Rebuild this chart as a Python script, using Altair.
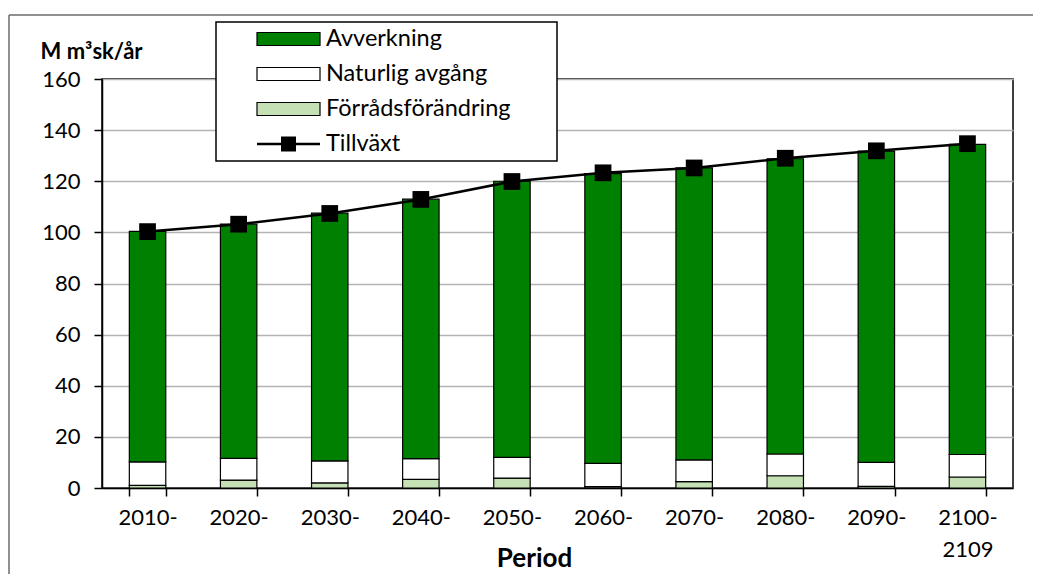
import altair as alt
import pandas as pd

# ---- data ----
periods = ["2010-", "2020-", "2030-", "2040-", "2050-", "2060-", "2070-", "2080-", "2090-", "2100-2109"]
avverkning = [90.2, 91.6, 96.9, 101.5, 108.0, 113.4, 114.2, 115.5, 121.8, 121.3]
naturlig = [9.2, 8.5, 8.6, 8.1, 8.1, 9.1, 8.5, 8.5, 9.4, 8.8]
forrad = [1.0, 3.1, 2.0, 3.4, 3.9, 0.5, 2.5, 4.8, 0.6, 4.3]
tillvaxt = [100.3, 103.2, 107.4, 112.9, 119.9, 123.3, 125.2, 129.0, 131.9, 134.7]
series = ["Avverkning", "Naturlig avgång", "Förrådsförändring", "Tillväxt"]
bar_colors = ["#008000", "#ffffff", "#c5e0b4"]
y_ticks = [0, 20, 40, 60, 80, 100, 120, 140, 160]

FONT = "Lato"
W, H = 911, 409

rows = []
for i, p in enumerate(periods):
    for name, vals, order in [("Förrådsförändring", forrad, 0),
                              ("Naturlig avgång", naturlig, 1),
                              ("Avverkning", avverkning, 2)]:
        rows.append({"period": p, "serie": name, "value": vals[i], "ord": order})
bars_df = pd.DataFrame(rows)
line_df = pd.DataFrame({"period": periods, "value": tillvaxt})

x_scale = alt.Scale(domain=periods, paddingInner=0.6, paddingOuter=0.3)
y_scale = alt.Scale(domain=[0, 160], nice=False, zero=True)

x_axis = alt.Axis(
    title="Period", titleFontSize=26, titleFontWeight="bold", titleFont=FONT, titleColor="black",
    titleX=432, titleY=78, titleBaseline="alphabetic", titleAlign="center",
    labelAngle=0, labelFont=FONT, labelFontSize=22, labelColor="black", labelPadding=11,
    labelLineHeight=32,
    labelExpr="datum.value == '2100-2109' ? ['2100-', '2109'] : datum.label",
    tickBand="extent", tickSize=8, tickColor="black", tickWidth=1.5,
    domainColor="black", domainWidth=1.5, grid=False,
)
y_axis = alt.Axis(
    title="M m³sk/år", titleAngle=0, titleX=-62, titleY=-21, titleAlign="left",
    titleBaseline="alphabetic", titleFontSize=22, titleFontWeight="bold", titleFont=FONT,
    titleColor="black",
    values=y_ticks, labelFont=FONT, labelFontSize=22, labelColor="black", labelPadding=14,
    tickSize=8, tickColor="black", tickWidth=1.5, domainColor="black", domainWidth=1.5,
    grid=True, gridColor="#b3b3b3", gridWidth=1.5,
)

bars = alt.Chart(bars_df).mark_bar(stroke="black", strokeWidth=1.2).encode(
    x=alt.X("period:N", sort=periods, scale=x_scale, axis=x_axis),
    y=alt.Y("value:Q", stack="zero", scale=y_scale, axis=y_axis),
    color=alt.Color("serie:N", scale=alt.Scale(domain=series[:3], range=bar_colors), legend=None),
    order=alt.Order("ord:Q", sort="ascending"),
)

line = alt.Chart(line_df).mark_line(color="black", strokeWidth=2.5).encode(
    x=alt.X("period:N", sort=periods, scale=x_scale),
    y=alt.Y("value:Q", scale=y_scale),
)
points = alt.Chart(line_df).mark_square(color="black", size=280, opacity=1).encode(
    x=alt.X("period:N", sort=periods, scale=x_scale),
    y=alt.Y("value:Q", scale=y_scale),
)

# ---- legend (boxed key, top-left of the plot) ----
one = pd.DataFrame({"a": [0]})
LX0, LX1, LY0, LY1 = 114, 455, -57, 82
SW_X0, SW_X1 = 155, 218
TXT_X = 224
row_y = [-40 + 35 * i for i in range(4)]

legend_layers = [
    alt.Chart(one).mark_rect(fill="white", stroke="black", strokeWidth=1.5).encode(
        x=alt.value(LX0), x2=alt.value(LX1), y=alt.value(LY0), y2=alt.value(LY1))
]
for i in range(3):
    legend_layers.append(
        alt.Chart(one).mark_rect(fill=bar_colors[i], stroke="black", strokeWidth=1.2).encode(
            x=alt.value(SW_X0), x2=alt.value(SW_X1),
            y=alt.value(row_y[i] - 6.5), y2=alt.value(row_y[i] + 6.5)))
legend_layers.append(
    alt.Chart(one).mark_rule(color="black", strokeWidth=2.5).encode(
        x=alt.value(SW_X0), x2=alt.value(SW_X1), y=alt.value(row_y[3])))
legend_layers.append(
    alt.Chart(one).mark_square(color="black", size=225, opacity=1).encode(
        x=alt.value((SW_X0 + SW_X1) / 2), y=alt.value(row_y[3])))
for i, name in enumerate(series):
    legend_layers.append(
        alt.Chart(one).mark_text(align="left", baseline="middle", font=FONT, fontSize=23.5,
                                 color="black").encode(
            x=alt.value(TXT_X), y=alt.value(row_y[i]), text=alt.value(name)))

# outer chart-area border (only top and left edges are visible in the reference)
border = [
    alt.Chart(one).mark_rule(color="#6b6b6b", strokeWidth=1.5).encode(
        x=alt.value(-93), x2=alt.value(931), y=alt.value(-64)),
    alt.Chart(one).mark_rule(color="#6b6b6b", strokeWidth=1.5).encode(
        x=alt.value(-93), y=alt.value(-64), y2=alt.value(495)),
]

chart = alt.layer(bars, line, points, *legend_layers, *border).properties(
    width=W, height=H,
    autosize=alt.AutoSizeParams(type="none"),
    padding={"left": 94, "top": 71, "right": 20, "bottom": 86},
    background="white",
).configure_view(stroke="black", strokeWidth=1.5)

chart.save("out.html", embed_options={"renderer": "svg", "actions": False})
